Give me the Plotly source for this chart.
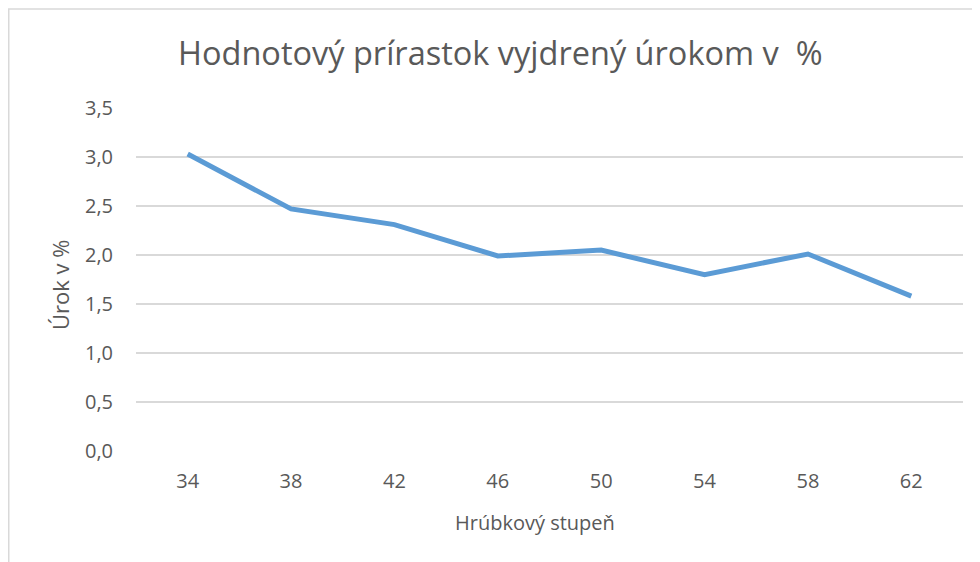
import plotly.graph_objects as go

categories = ["34", "38", "42", "46", "50", "54", "58", "62"]
values = [3.03, 2.47, 2.31, 1.99, 2.05, 1.80, 2.01, 1.58]
y_ticks = [0, 0.5, 1.0, 1.5, 2.0, 2.5, 3.0, 3.5]
y_tick_labels = ["0,0", "0,5", "1,0", "1,5", "2,0", "2,5", "3,0", "3,5"]

# page body has an 8px margin, so figure pixel = screen pixel - 8
W, H = 972, 554
L, R, T, B = 128, 17, 100, 111
pw, ph = W - L - R, H - T - B

def px(x):
    return (x - L) / pw

def py(y):
    return (H - B - y) / ph

FONT = "'Open Sans', sans-serif"
GRAY = "#595959"

fig = go.Figure()
fig.add_trace(go.Scatter(
    x=categories, y=values, mode="lines",
    line=dict(color="#5B9BD5", width=5),
    hoverinfo="x+y", showlegend=False,
))

fig.update_layout(
    width=W, height=H,
    margin=dict(l=L, r=R, t=T, b=B),
    paper_bgcolor="white", plot_bgcolor="white",
    font=dict(family=FONT, color=GRAY),
    xaxis=dict(type="category", range=[-0.5, 7.5], showgrid=False,
               showline=False, zeroline=False, ticks="",
               tickfont=dict(size=20, color=GRAY, family=FONT), ticklabelstandoff=16),
    yaxis=dict(range=[0, 3.5], tickvals=y_ticks, ticktext=y_tick_labels,
               showgrid=True, gridcolor="#D9D9D9", gridwidth=1.5,
               zeroline=False, showline=False, ticks="",
               tickfont=dict(size=20, color=GRAY, family=FONT), ticklabelstandoff=22),
    annotations=[
        dict(text="Hodnotový prírastok vyjdrený úrokom v  %", xref="paper", yref="paper",
             x=px(492), y=py(44), xanchor="center", yanchor="middle",
             showarrow=False, font=dict(size=32.5, color=GRAY, family=FONT)),
        dict(text="Hrúbkový stupeň", xref="paper", yref="paper",
             x=px(527), y=py(514), xanchor="center", yanchor="middle",
             showarrow=False, font=dict(size=20, color=GRAY, family=FONT)),
        dict(text="Úrok v %", xref="paper", yref="paper",
             x=px(52), y=py(277), xanchor="center", yanchor="middle", textangle=-90,
             showarrow=False, font=dict(size=22, color=GRAY, family=FONT)),
    ],
    shapes=[
        dict(type="line", xref="paper", yref="paper", x0=px(0.75), x1=px(0.75), y0=py(1), y1=py(H),
             line=dict(color="#D9D9D9", width=1.5)),
        dict(type="line", xref="paper", yref="paper", x0=px(0), x1=px(W), y0=py(1), y1=py(1),
             line=dict(color="#D9D9D9", width=1.5)),
    ],
)

fig.write_html("out.html")
